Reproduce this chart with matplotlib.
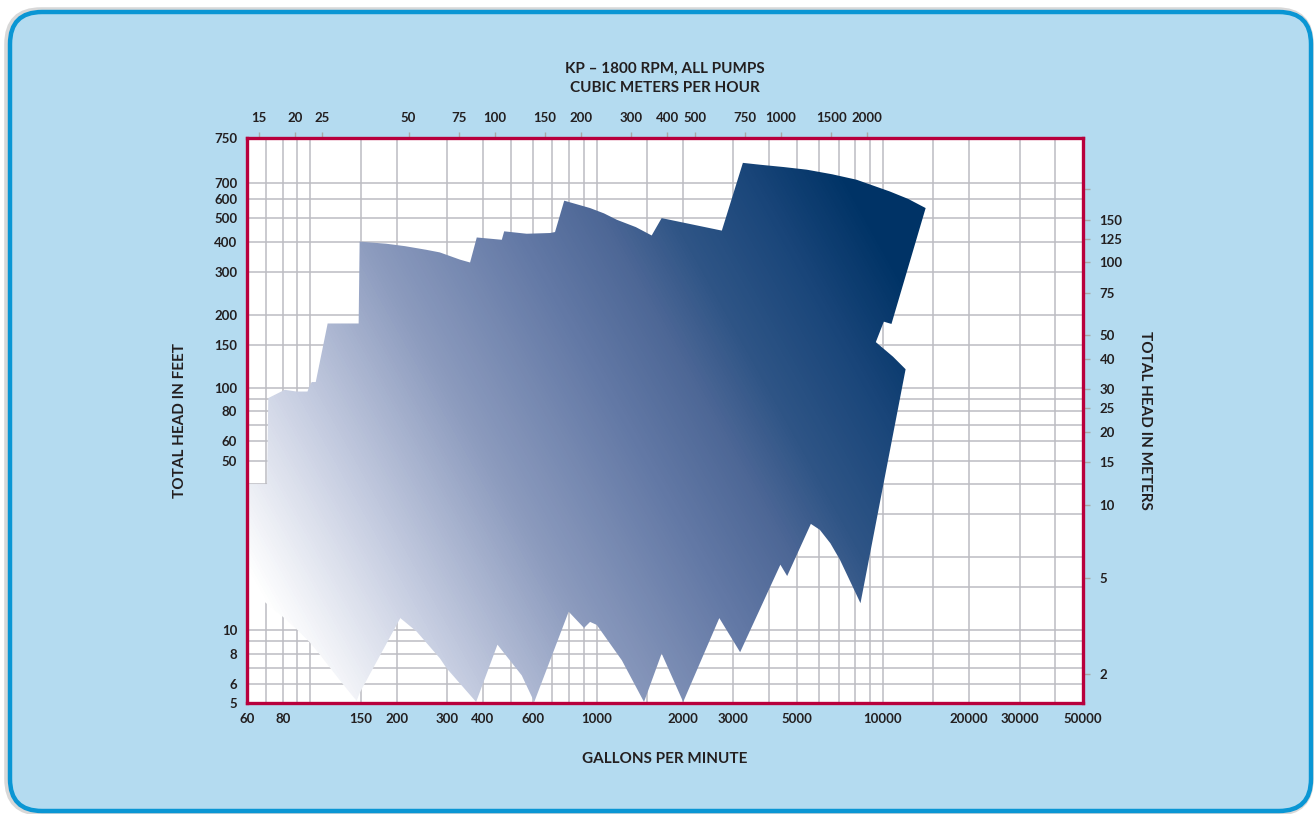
import numpy as np
import matplotlib
matplotlib.use("Agg")
import matplotlib.pyplot as plt
from matplotlib.patches import Polygon, FancyBboxPatch
from matplotlib.colors import LinearSegmentedColormap
from matplotlib.ticker import NullLocator
from matplotlib.transforms import IdentityTransform

plt.rcParams["font.family"] = ["Lato", "DejaVu Sans"]
plt.rcParams["font.weight"] = "bold"

GPM_PER_M3H = 4.403
FT_PER_M = 3.281

# outline of the combined pump coverage, traced clockwise (gpm, head in ft)
outline_gpm = [60, 70.5, 71.2, 81.3, 89.3, 97.6, 99.0, 101.0, 104.3, 114.8,
               147.3, 148.5, 184, 214, 254, 283, 333, 361, 381, 466,
               475, 569, 687, 715, 770, 948, 1060, 1176, 1370, 1556,
               1686, 2736, 3241, 3725, 4500, 5416, 6650, 8084, 10564, 12250,
               14100, 10710, 10070, 9444, 10850, 12000, 8347, 7074, 6550, 6018,
               5600, 4628, 4382, 3170, 2681, 2005, 1686, 1463, 1224, 1000,
               948, 903, 798, 605, 547, 450, 379, 299, 283, 235,
               206, 148.5, 145, 131, 118, 108, 99, 90, 80, 70,
               60]
outline_ft = [40, 40, 90.5, 97.9, 96.3, 96.3, 101, 105.4, 105.4, 183.8,
              183.8, 400, 392, 383, 370, 361, 337, 328, 416, 407,
              441, 431, 434, 438, 590, 550, 523, 492, 459, 424,
              500, 444, 845, 830, 812, 792, 758, 720, 644, 600,
              550, 183, 187, 154, 134, 119, 12.9, 19.5, 22.8, 25.9,
              27.4, 16.7, 18.6, 8.1, 11.2, 5.05, 8.0, 5.05, 7.5, 10.5,
              10.8, 10.2, 11.9, 5.05, 6.5, 8.7, 5.05, 6.95, 7.65, 9.85,
              11.2, 5.5, 5.1, 5.9, 6.9, 7.9, 8.95, 10.0, 11.35, 12.9,
              15.1]

gpm_ticks = [60, 80, 150, 200, 300, 400, 600, 1000, 2000, 3000, 5000,
             10000, 20000, 30000, 50000]
ft_ticks = [5, 6, 8, 10, 50, 60, 80, 100, 150, 200, 300, 400, 500, 600, 700]
FT_TOP = 1070
ft_top_label = "750"
m3h_ticks = [15, 20, 25, 50, 75, 100, 150, 200, 300, 400, 500, 750, 1000, 1500, 2000]
m_ticks = [2, 5, 10, 15, 20, 25, 30, 40, 50, 75, 100, 125, 150, 200]
m_labels = ["2", "5", "10", "15", "20", "25", "30", "40", "50", "75", "100", "125", "150", ""]

grid_gpm = [70, 80, 90, 100, 150, 200, 300, 400, 500, 600, 700, 800, 900, 1000,
            1500, 2000, 3000, 4000, 5000, 6000, 7000, 8000, 9000, 10000,
            15000, 20000, 30000, 40000]
grid_ft = [6, 7, 8, 9, 10, 15, 20, 30, 40, 50, 60, 70, 80, 90, 100,
           150, 200, 300, 400, 500, 600, 700]

TXT = "#231f20"
W, H = 1315, 814

fig = plt.figure(figsize=(W / 100, H / 100), dpi=100)
fig.patch.set_facecolor("white")

shadow = FancyBboxPatch((7, 1), 1304, 803, boxstyle="round,pad=0,rounding_size=34",
                        transform=IdentityTransform(), facecolor="none",
                        edgecolor="#d8d8d8", linewidth=4, zorder=-6)
fig.add_artist(shadow)
bg = FancyBboxPatch((10, 3), 1301, 799, boxstyle="round,pad=0,rounding_size=32",
                    transform=IdentityTransform(), facecolor="#b4dbf0",
                    edgecolor="#0a96d4", linewidth=3.2, zorder=-5)
fig.add_artist(bg)

ax = fig.add_axes([247 / W, 1 - 703 / H, 836 / W, 565 / H])
ax.set_facecolor("white")
ax.set_xscale("log")
ax.set_yscale("log")
ax.set_xlim(60, 50000)
ax.set_ylim(5, FT_TOP)
ax.set_autoscale_on(False)

for g in grid_gpm:
    ax.axvline(g, color="#bcbcc2", lw=1.1, zorder=1)
for g in grid_ft:
    ax.axhline(g, color="#bcbcc2", lw=1.1, zorder=1)

poly = Polygon(np.column_stack([outline_gpm, outline_ft]), closed=True,
               facecolor="none", edgecolor="none", zorder=2)
ax.add_patch(poly)

# diagonal gradient, white bottom-left to navy top-right
nx, ny = 836, 565
px = 247 + np.linspace(0, 1, nx) * 836
py = 703 - np.linspace(0, 1, ny) * 565
PX, PY = np.meshgrid(px, py)
dx, dy = 680.0, -380.0
t = ((PX - 270) * dx + (PY - 740) * dy) / (dx * dx + dy * dy)
t = np.clip(t, 0, 1)
cmap = LinearSegmentedColormap.from_list(
    "pump", [(0.0, "#ffffff"), (0.08, "#ffffff"), (0.25, "#c6cde1"),
             (0.42, "#8c9bbe"), (0.6, "#6278a5"), (0.7, "#4d6796"),
             (0.78, "#2f5586"), (0.89, "#1a467a"), (1.0, "#003366")])
im = ax.imshow(cmap(t), extent=[0, 1, 0, 1], transform=ax.transAxes,
               origin="lower", aspect="auto", zorder=2, interpolation="bilinear")
im.set_clip_path(poly)
ax.set_xlim(60, 50000)
ax.set_ylim(5, FT_TOP)

for s in ax.spines.values():
    s.set_color("#b8003c")
    s.set_linewidth(2.4)
    s.set_zorder(5)

ax.set_xticks(gpm_ticks)
ax.set_xticklabels([str(v) for v in gpm_ticks])
ax.set_yticks(ft_ticks + [FT_TOP])
ax.set_yticklabels([str(v) for v in ft_ticks] + [ft_top_label])
ax.xaxis.set_minor_locator(NullLocator())
ax.yaxis.set_minor_locator(NullLocator())
ax.tick_params(length=0, pad=7, labelsize=9.5, labelcolor=TXT)

secx = ax.secondary_xaxis("top", functions=(lambda g: g / GPM_PER_M3H,
                                             lambda m: m * GPM_PER_M3H))
secx.set_xticks(m3h_ticks)
secx.set_xticklabels([str(v) for v in m3h_ticks])
secx.xaxis.set_minor_locator(NullLocator())
secx.tick_params(length=4, width=1, color="#a8a8a8", pad=6, labelsize=9.5,
                 labelcolor=TXT)

secy = ax.secondary_yaxis("right", functions=(lambda f: f / FT_PER_M,
                                               lambda m: m * FT_PER_M))
secy.set_yticks(m_ticks)
secy.set_yticklabels(m_labels)
secy.yaxis.set_minor_locator(NullLocator())
secy.tick_params(length=5, width=1, color="#a8a8a8", pad=7, labelsize=9.5,
                 labelcolor=TXT)
for sa in (secx, secy):
    for s in sa.spines.values():
        s.set_visible(False)

fig.text(665 / W, 1 - 69 / H, "KP – 1800 RPM, ALL PUMPS", ha="center", va="center",
         fontsize=11, fontweight="bold", color=TXT)
fig.text(665 / W, 1 - 88 / H, "CUBIC METERS PER HOUR", ha="center", va="center",
         fontsize=11, fontweight="bold", color=TXT)
fig.text(665 / W, 1 - 759 / H, "GALLONS PER MINUTE", ha="center", va="center",
         fontsize=11, fontweight="bold", color=TXT)
fig.text(180 / W, 1 - 420 / H, "TOTAL HEAD IN FEET", ha="center", va="center",
         rotation=90, fontsize=11, fontweight="bold", color=TXT)
fig.text(1145 / W, 1 - 420 / H, "TOTAL HEAD IN METERS", ha="center", va="center",
         rotation=270, fontsize=11, fontweight="bold", color=TXT)

fig.savefig("out.png", dpi=100, facecolor="white")
